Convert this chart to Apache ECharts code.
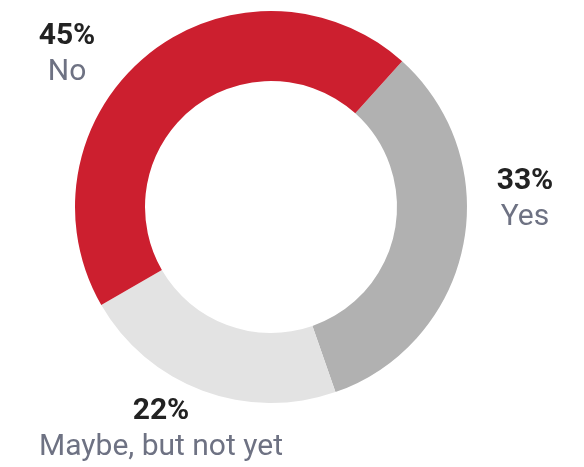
<!DOCTYPE html>
<html>
<head>
<meta charset="utf-8">
<script src="https://cdn.jsdelivr.net/npm/echarts@6/dist/echarts.min.js"></script>
<style>html,body{margin:0;padding:0;background:#fff;}#c{width:584px;height:467px;}</style>
</head>
<body>
<div id="c"></div>
<script>
var categories = ['Yes', 'Maybe, but not yet', 'No'];
var values = [33, 22, 45];
var colors = ['#b1b1b1', '#e3e3e3', '#cc1f2f'];
// label anchor positions (centre of the two-line label block)
var labelPos = {
  'Yes': [525, 199],
  'Maybe, but not yet': [161, 429],
  'No': [67, 54]
};

var chart = echarts.init(document.getElementById('c'), null, {renderer: 'canvas'});
chart.setOption({
  animation: false,
  series: [{
    type: 'pie',
    center: [271, 207],
    radius: [126, 196],
    startAngle: 48,
    clockwise: true,
    silent: true,
    avoidLabelOverlap: false,
    data: categories.map(function (c, i) {
      return {name: c, value: values[i], itemStyle: {color: colors[i]}};
    }),
    label: {
      show: true,
      position: 'outside',
      formatter: function (p) { return '{p|' + p.value + '%}\n{n|' + p.name + '}'; },
      rich: {
        p: {fontFamily: 'Roboto', fontWeight: 'bold', fontSize: 30, color: '#222222', lineHeight: 36, align: 'center'},
        n: {fontFamily: 'Roboto', fontSize: 30, color: '#6e7283', lineHeight: 36, align: 'center'}
      }
    },
    labelLine: {show: false},
    labelLayout: function (params) {
      var name = categories[params.dataIndex];
      var pos = labelPos[name];
      return {x: pos[0], y: pos[1], align: 'center', verticalAlign: 'middle'};
    }
  }]
});
</script>
</body>
</html>
